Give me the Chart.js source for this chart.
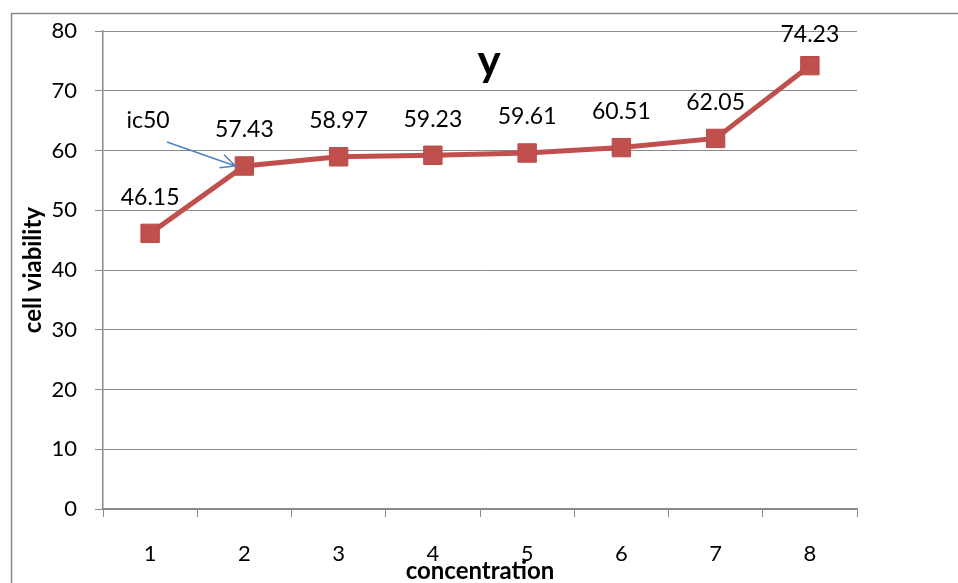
<!DOCTYPE html>
<html>
<head>
<meta charset="utf-8">
<script src="https://cdn.jsdelivr.net/npm/chart.js@4"></script>
<style>
  body { margin: 0; background: #fff; }
  canvas { display: block; }
</style>
</head>
<body>
<canvas id="myChart" width="958" height="583"></canvas>
<script>
var concentration = ['1', '2', '3', '4', '5', '6', '7', '8'];
var cellViability = [46.15, 57.43, 58.97, 59.23, 59.61, 60.51, 62.05, 74.23];
var yTicks = [0, 10, 20, 30, 40, 50, 60, 70, 80];

var FONT = 'Lato, "Open Sans", sans-serif';
var GRAY = '#8a8a8a';

// border, title "y", data labels and the ic50 arrow
var extras = {
    id: 'extras',
    afterDatasetsDraw: function (chart) {
        var ctx = chart.ctx;
        var meta = chart.getDatasetMeta(0);
        ctx.save();

        // outer frame
        ctx.strokeStyle = GRAY;
        ctx.lineWidth = 1.5;
        ctx.strokeRect(11.5, 13.5, 960, 600);

        // data labels
        ctx.fillStyle = '#000';
        ctx.font = '23px ' + FONT;
        ctx.textAlign = 'center';
        ctx.textBaseline = 'middle';
        meta.data.forEach(function (pt, i) {
            var y = Math.max(pt.y - 36, 35);
            ctx.fillText(cellViability[i].toFixed(2), pt.x, y);
        });

        // chart title
        ctx.font = 'bold 44px ' + FONT;
        ctx.fillText('y', 489, 62);

        // ic50 note + arrow towards the 2nd point
        ctx.font = '23px ' + FONT;
        ctx.fillText('ic50', 148, 121);
        var p = meta.data[1];
        var x0 = 167, y0 = 142;
        var x1 = p.x - 9, y1 = p.y;
        var a = Math.atan2(y1 - y0, x1 - x0);
        ctx.strokeStyle = '#4f81bd';
        ctx.lineWidth = 1.5;
        ctx.beginPath();
        ctx.moveTo(x0, y0);
        ctx.lineTo(x1, y1);
        ctx.moveTo(x1 - 16 * Math.cos(a - 0.45), y1 - 16 * Math.sin(a - 0.45));
        ctx.lineTo(x1, y1);
        ctx.lineTo(x1 - 16 * Math.cos(a + 0.45), y1 - 16 * Math.sin(a + 0.45));
        ctx.stroke();

        ctx.restore();
    }
};

var myChart = new Chart(document.getElementById('myChart').getContext('2d'), {
    type: 'line',
    data: {
        labels: concentration,
        datasets: [{
            label: 'y',
            data: cellViability,
            borderColor: '#c0504d',
            backgroundColor: '#c0504d',
            borderWidth: 5,
            pointStyle: 'rect',
            pointRadius: 13,
            pointBorderWidth: 1,
            pointBorderColor: '#b84a47',
            pointBackgroundColor: '#c0504d',
            tension: 0
        }]
    },
    options: {
        responsive: false,
        animation: false,
        layout: {
            padding: { left: 12, top: 29, right: 101, bottom: 0 }
        },
        plugins: {
            legend: { display: false },
            tooltip: { enabled: false }
        },
        scales: {
            x: {
                type: 'category',
                offset: true,
                grid: {
                    offset: true,
                    drawOnChartArea: false,
                    drawTicks: true,
                    tickLength: 8,
                    color: GRAY
                },
                border: { color: GRAY, width: 1.5 },
                ticks: {
                    color: '#000',
                    padding: 24,
                    maxRotation: 0,
                    font: { family: FONT, size: 22 }
                },
                title: {
                    display: true,
                    text: 'concentration',
                    color: '#000',
                    padding: { top: 0, bottom: -3 },
                    font: { family: FONT, size: 24, weight: 'bold' }
                },
                afterFit: function (scale) { scale.height = 74; }
            },
            y: {
                min: 0,
                max: 80,
                afterBuildTicks: function (scale) {
                    scale.ticks = yTicks.map(function (v) { return { value: v }; });
                },
                grid: {
                    color: GRAY,
                    tickLength: 8
                },
                border: { color: GRAY, width: 1.5 },
                ticks: {
                    color: '#000',
                    padding: 18,
                    font: { family: FONT, size: 22 }
                },
                title: {
                    display: true,
                    text: 'cell viability',
                    color: '#000',
                    padding: { top: 7, bottom: 0 },
                    font: { family: FONT, size: 24, weight: 'bold' }
                },
                afterFit: function (scale) { scale.width = 91; }
            }
        }
    },
    plugins: [extras]
});
</script>
</body>
</html>
